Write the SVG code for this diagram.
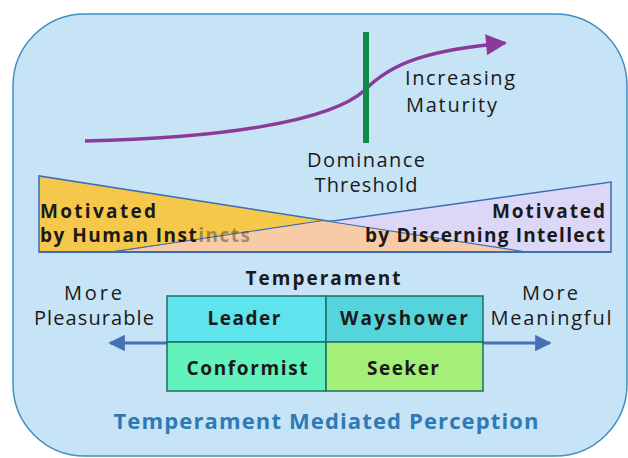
<svg xmlns="http://www.w3.org/2000/svg" width="628" height="458" viewBox="0 0 628 458">
  <defs>
    <marker id="purpleHead" viewBox="0 0 10 10" refX="9" refY="5" markerWidth="7" markerHeight="6" markerUnits="strokeWidth" orient="auto">
      <path d="M0,0 L10,5 L0,10 z" fill="#8b3a9a"/>
    </marker>
    <marker id="blueHead" viewBox="0 0 10 10" refX="9" refY="5" markerWidth="8" markerHeight="5.5" markerUnits="strokeWidth" orient="auto-start-reverse">
      <path d="M0,0 L10,5 L0,10 z" fill="#4670b4"/>
    </marker>
  </defs>
  <style>
    text { font-family: "Open Sans", Lato, "Liberation Sans", sans-serif; fill: #1a1a1a; }
    .lbl { font-size: 20px; }
    .bold { font-size: 19px; font-weight: bold; }
    .cell { font-size: 19px; font-weight: bold; text-anchor: middle; }
    .mid { text-anchor: middle; }
    .end { text-anchor: end; }
    .gridline { stroke: #1f6e64; stroke-width: 1.5; }
  </style>

  <g id="background">
    <rect x="13" y="14" width="614" height="442" rx="72" ry="72" fill="#c6e4f6" stroke="#3d8fc4" stroke-width="1.5"/>
  </g>

  <g id="connectors">
    <path d="M85,141 C220,138 330,122 365,90 C392,62 430,50 505,43" fill="none" stroke="#8b3a9a" stroke-width="3.5" marker-end="url(#purpleHead)"/>
    <line x1="110" y1="343" x2="550" y2="343" stroke="#4670b4" stroke-width="3" marker-start="url(#blueHead)" marker-end="url(#blueHead)"/>
  </g>

  <g id="threshold">
    <line x1="366" y1="32" x2="366" y2="143" stroke="#0f8a48" stroke-width="6"/>
    <text class="lbl mid" x="366" y="167" textLength="118" lengthAdjust="spacing">Dominance</text>
    <text class="lbl mid" x="366" y="192" textLength="103" lengthAdjust="spacing">Threshold</text>
  </g>

  <g id="maturity">
    <text class="lbl" x="405" y="85" textLength="110" lengthAdjust="spacing">Increasing</text>
    <text class="lbl" x="406" y="112" textLength="91" lengthAdjust="spacing">Maturity</text>
  </g>

  <g id="motivation-band">
    <polygon points="39,176 39,252 527,252" fill="#f5c84c" stroke="#3b6db0" stroke-width="1.5"/>
    <polygon points="611,182 611,252 112,252" fill="#dcd7f7" stroke="#3b6db0" stroke-width="1.5"/>
    <polygon points="112,252 323,220.5 527,252" fill="#f6cba5" stroke="none"/>
    <path d="M112,252 L323,220.5 L527,252" fill="none" stroke="#3b6db0" stroke-width="1.2"/>
    <line x1="39" y1="252" x2="611" y2="252" stroke="#3b6db0" stroke-width="1.8"/>
  </g>

  <g id="instincts">
    <text class="bold" x="40" y="218" textLength="116" lengthAdjust="spacing">Motivated</text>
    <text class="bold" x="40" y="242" textLength="210" lengthAdjust="spacing">by Human Inst<tspan fill-opacity="0.4">incts</tspan></text>
  </g>

  <g id="intellect">
    <text class="bold end" x="605" y="218" textLength="113" lengthAdjust="spacing">Motivated</text>
    <text class="bold end" x="605" y="242" textLength="240" lengthAdjust="spacing">by Discerning Intellect</text>
  </g>

  <g id="temperament">
    <text class="bold mid" x="323" y="285" textLength="155" lengthAdjust="spacing">Temperament</text>
  </g>

  <g id="leader">
    <rect class="gridline" x="167" y="296" width="159" height="46" fill="#5fe3ec"/>
    <text class="cell" x="244" y="325" textLength="73" lengthAdjust="spacing">Leader</text>
  </g>
  <g id="wayshower">
    <rect class="gridline" x="326" y="296" width="157" height="46" fill="#55d4dc"/>
    <text class="cell" x="404" y="325" textLength="128" lengthAdjust="spacing">Wayshower</text>
  </g>
  <g id="conformist">
    <rect class="gridline" x="167" y="342" width="159" height="49" fill="#62f2bc"/>
    <text class="cell" x="247" y="375" textLength="121" lengthAdjust="spacing">Conformist</text>
  </g>
  <g id="seeker">
    <rect class="gridline" x="326" y="342" width="157" height="49" fill="#a3ef78"/>
    <text class="cell" x="403" y="375" textLength="72" lengthAdjust="spacing">Seeker</text>
  </g>

  <g id="more-pleasurable">
    <text class="lbl mid" x="93" y="300" textLength="58" lengthAdjust="spacing">More</text>
    <text class="lbl mid" x="94" y="325" textLength="120" lengthAdjust="spacing">Pleasurable</text>
  </g>
  <g id="more-meaningful">
    <text class="lbl mid" x="550" y="300" textLength="56" lengthAdjust="spacing">More</text>
    <text class="lbl mid" x="551" y="325" textLength="121" lengthAdjust="spacing">Meaningful</text>
  </g>

  <g id="title">
    <text x="326" y="429" text-anchor="middle" textLength="425" lengthAdjust="spacing" style="font-size:22px;font-weight:bold;fill:#2e7ab8">Temperament Mediated Perception</text>
  </g>
</svg>
